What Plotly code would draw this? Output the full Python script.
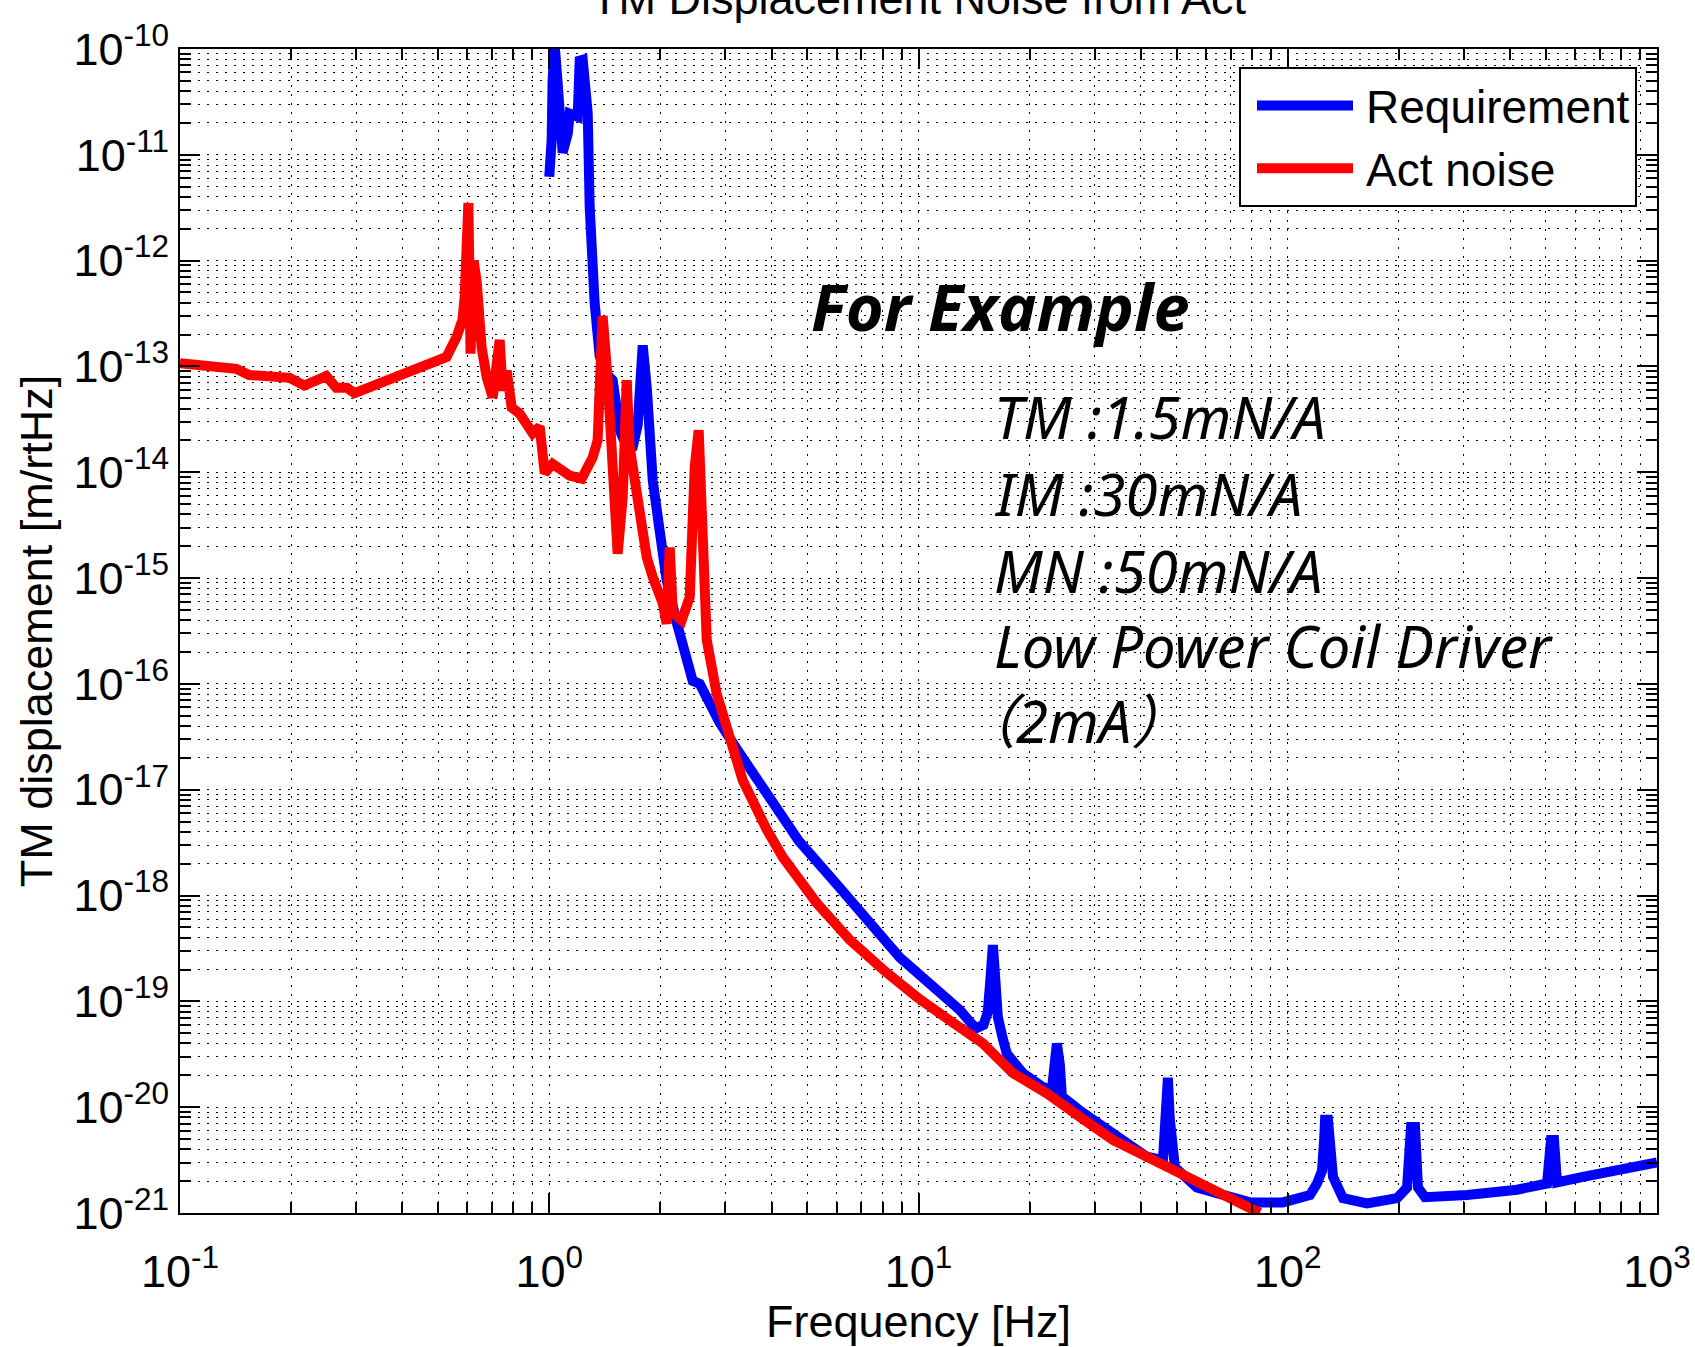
import plotly.graph_objects as go

# ---------------- data ----------------
req_freq = [1.00, 1.015, 1.021, 1.034, 1.054, 1.067, 1.087, 1.122, 1.136, 1.194,
            1.209, 1.232, 1.247, 1.271, 1.287, 1.303, 1.327, 1.369, 1.413, 1.485,
            1.552, 1.631, 1.683, 1.736, 1.791, 1.837, 1.907, 1.991, 2.080, 2.214,
            2.446, 2.556, 2.895, 3.28, 3.882, 4.737, 5.860, 7.244, 8.90, 10.94,
            12.94, 14.0, 14.39, 15.0, 15.4, 15.65, 15.90, 16.15, 16.40, 16.9,
            17.35, 19.17, 21.72, 22.97, 23.4, 23.70, 24.15, 24.45, 27.35, 33.61,
            41.55, 45.91, 46.8, 47.36, 47.9, 49.48, 56.75, 69.72, 79.0, 97.0,
            114.9, 120.0, 123.8, 125.5, 126.2, 128.5, 129.5, 132.6, 141.1, 163.9,
            197.7, 210.4, 215.7, 221.1, 225.3, 235.3, 305.8, 417.8, 503.7, 516.4,
            526.1, 536.1, 630.4, 779.6, 1000.0]
req_asd = [6.2e-12, 1.38e-11, 5.0e-11, 1.12e-10, 4.7e-11, 1.58e-11, 1.05e-11, 1.58e-11, 2.45e-11, 2.29e-11,
           7.76e-11, 7.9e-11, 5.4e-11, 2.5e-11, 3.16e-12, 1.0e-12, 4.0e-13, 1.26e-13, 8.9e-14, 7.4e-14,
           2.5e-14, 1.66e-14, 1.74e-14, 2.8e-14, 1.58e-13, 6.3e-14, 8.3e-15, 2.8e-15, 9.5e-16, 3.8e-16,
           1.07e-16, 1.0e-16, 4.3e-17, 2.2e-17, 9.3e-18, 3.3e-18, 1.41e-18, 5.9e-19, 2.6e-19, 1.38e-19,
           8.3e-20, 6.0e-20, 5.6e-20, 6.0e-20, 7.9e-20, 1.58e-19, 3.4e-19, 1.58e-19, 7.1e-20, 4.5e-20,
           3.2e-20, 2.1e-20, 1.55e-20, 1.45e-20, 2.5e-20, 4.0e-20, 2.5e-20, 1.26e-20, 9.3e-21, 5.6e-21,
           3.4e-21, 3.16e-21, 7.9e-21, 1.9e-20, 7.9e-21, 2.7e-21, 1.74e-21, 1.38e-21, 1.26e-21, 1.26e-21,
           1.48e-21, 1.9e-21, 2.5e-21, 5.0e-21, 7.6e-21, 7.6e-21, 4.5e-21, 2.2e-21, 1.38e-21, 1.23e-21,
           1.38e-21, 1.74e-21, 6.5e-21, 6.5e-21, 1.74e-21, 1.41e-21, 1.48e-21, 1.66e-21, 1.9e-21, 4.9e-21,
           4.9e-21, 1.95e-21, 2.2e-21, 2.5e-21, 3.0e-21]

act_freq = [0.100, 0.122, 0.142, 0.154, 0.198, 0.217, 0.249, 0.265, 0.283, 0.297,
            0.347, 0.386, 0.427, 0.483, 0.527, 0.561, 0.582, 0.590, 0.604, 0.612,
            0.624, 0.636, 0.656, 0.677, 0.703, 0.734, 0.748, 0.767, 0.791, 0.831,
            0.902, 0.942, 0.972, 1.021, 1.136, 1.224, 1.311, 1.352, 1.395, 1.440,
            1.485, 1.532, 1.581, 1.621, 1.651, 1.757, 1.836, 1.907, 2.029, 2.080,
            2.120, 2.160, 2.284, 2.401, 2.477, 2.539, 2.588, 2.636, 2.67, 2.84,
            3.08, 3.34, 3.882, 4.29, 5.30, 6.52, 8.01, 9.89, 12.16, 14.94,
            18.01, 22.27, 27.35, 33.61, 41.55, 51.07, 62.7, 77.5, 84.0]
act_asd = [1.07e-13, 9.8e-14, 9.5e-14, 8.3e-14, 7.8e-14, 6.6e-14, 8.1e-14, 6.3e-14, 6.3e-14, 5.6e-14,
           6.9e-14, 7.9e-14, 8.9e-14, 1.05e-13, 1.23e-13, 1.9e-13, 2.75e-13, 4.5e-13, 3.5e-12, 1.32e-13,
           1.0e-12, 6.3e-13, 1.51e-13, 7.9e-14, 5.1e-14, 1.78e-13, 5.9e-14, 9.1e-14, 4.1e-14, 3.6e-14,
           2.34e-14, 2.7e-14, 9.8e-15, 1.2e-14, 9.3e-15, 8.7e-15, 1.38e-14, 2.0e-14, 3.0e-13, 7.4e-14,
           8.3e-15, 1.7e-15, 5.8e-15, 7.4e-14, 1.74e-14, 4.1e-15, 1.58e-15, 1.02e-15, 5.8e-16, 3.7e-16,
           1.95e-15, 4.7e-16, 4.0e-16, 6.6e-16, 1.12e-14, 2.5e-14, 5.8e-15, 4.7e-16, 2.6e-16, 8.1e-17,
           3.0e-17, 1.23e-17, 4.2e-18, 2.3e-18, 8.5e-19, 3.8e-19, 2.0e-19, 1.1e-19, 6.6e-20, 4.0e-20,
           2.1e-20, 1.35e-20, 8.1e-21, 4.9e-21, 3.4e-21, 2.4e-21, 1.66e-21, 1.2e-21, 1.0e-21]

series_names = ["Requirement", "Act noise"]
series_colors = ["#0000FF", "#FF0000"]

x_tick_vals = [0.1, 1, 10, 100, 1000]
x_tick_text = ["10<sup>-1</sup>", "10<sup>0</sup>", "10<sup>1</sup>", "10<sup>2</sup>", "10<sup>3</sup>"]
y_exponents = [-21, -20, -19, -18, -17, -16, -15, -14, -13, -12, -11, -10]
y_tick_vals = [10.0 ** e for e in y_exponents]
y_tick_text = ["10<sup>%d</sup>" % e for e in y_exponents]

title_text = "TM Displacement Noise from Act"
x_title = "Frequency [Hz]"
y_title = "TM displacement [m/rtHz]"
heading_text = "For Example"
note_lines = ["TM :1.5mN/A", "IM :30mN/A", "MN :50mN/A", "Low Power Coil Driver", "\uff082mA\uff09"]

# minor tick / grid positions (2..9 per decade)
x_minor = [m * 10.0 ** k for k in range(-1, 3) for m in range(2, 10)]
y_minor = [m * 10.0 ** k for k in range(-21, -10) for m in range(2, 10)]

# ---------------- figure ----------------
W, H = 1695, 1347
ML, MR, MT, MB = 180, 38, 49, 134
PW = W - ML - MR
PH = H - MT - MB

fig = go.Figure()
fig.add_trace(go.Scatter(x=req_freq, y=req_asd, mode="lines", name=series_names[0],
                         line=dict(color=series_colors[0], width=10)))
fig.add_trace(go.Scatter(x=act_freq, y=act_asd, mode="lines", name=series_names[1],
                         line=dict(color=series_colors[1], width=10)))

base_font = "Liberation Sans, Arial, sans-serif"
grid_dash = "2px,7px"

common_axis = dict(
    type="log", showline=True, linecolor="black", linewidth=2, mirror="ticks",
    ticks="inside", ticklen=20, tickwidth=1.5, tickcolor="black",
    showgrid=True, gridcolor="black", gridwidth=1.3, griddash=grid_dash,
    tickfont=dict(family=base_font, size=45, color="black"),
    zeroline=False, tickmode="array",
)

fig.update_xaxes(
    **common_axis, range=[-1, 3], tickvals=x_tick_vals, ticktext=x_tick_text,
    ticklabelstandoff=18,
    minor=dict(tickmode="array", tickvals=x_minor, ticks="inside", ticklen=11,
               tickwidth=1.5, tickcolor="black", showgrid=True, gridcolor="black",
               gridwidth=1.3, griddash=grid_dash),
    title=dict(text=x_title, font=dict(family=base_font, size=45, color="black"), standoff=15),
)
fig.update_yaxes(
    **common_axis, range=[-21, -10], tickvals=y_tick_vals, ticktext=y_tick_text,
    ticklabelstandoff=0,
    minor=dict(tickmode="array", tickvals=y_minor, ticks="inside", ticklen=11,
               tickwidth=1.5, tickcolor="black", showgrid=True, gridcolor="black",
               gridwidth=1.3, griddash=grid_dash),
    title=dict(text=y_title, font=dict(family=base_font, size=45, color="black"), standoff=7),
)

anno_font = "Noto Sans, Open Sans, DejaVu Sans, sans-serif"
annotations = [dict(text=heading_text, xref="paper", yref="paper",
                    x=(809 - ML) / PW, y=(H - MB - 306) / PH,
                    xanchor="left", yanchor="middle", showarrow=False,
                    font=dict(family=anno_font, size=65, color="black", weight="bold", style="italic"))]
line_centers = [416, 494, 570, 645, 721]
line_lefts = [992, 992, 992, 992, 956]
for txt, yc, xl in zip(note_lines, line_centers, line_lefts):
    annotations.append(dict(text=txt, xref="paper", yref="paper",
                            x=(xl - ML) / PW, y=(H - MB - yc) / PH,
                            xanchor="left", yanchor="middle", showarrow=False,
                            font=dict(family=anno_font + ", Noto Sans CJK JP", size=58,
                                      color="black", style="italic")))

fig.update_layout(
    width=W, height=H,
    margin=dict(l=ML, r=MR, t=MT, b=MB, autoexpand=False),
    paper_bgcolor="white", plot_bgcolor="white",
    title=dict(text=title_text, x=0.5, xref="paper", xanchor="center",
               y=1 - 14 / H, yref="container", yanchor="bottom",
               font=dict(family=base_font, size=45, color="black")),
    showlegend=True,
    legend=dict(x=(1637 - ML) / PW, y=(H - MB - 67) / PH, xanchor="right", yanchor="top",
                bgcolor="white", bordercolor="black", borderwidth=2,
                font=dict(family=base_font, size=46, color="black"),
                itemwidth=115, tracegroupgap=0),
    annotations=annotations,
)

post_js = """
(function(){
  document.documentElement.style.margin = '0';
  document.body.style.margin = '0';
  document.body.style.padding = '0';
  var gd = document.getElementById('{plot_id}');
  function fix(){
    gd.querySelectorAll('g.legend g.legendlines path').forEach(function(p){
      p.setAttribute('d', 'M16,0h96');
    });
  }
  fix();
  if (gd.on) { gd.on('plotly_afterplot', fix); }
})();
"""
fig.write_html("out.html", post_script=post_js, config={"displayModeBar": False})
